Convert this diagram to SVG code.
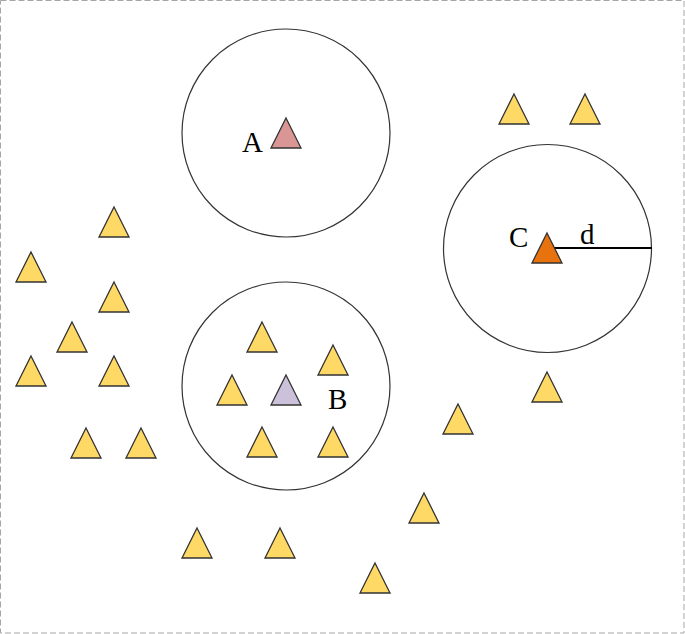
<svg xmlns="http://www.w3.org/2000/svg" xmlns:xlink="http://www.w3.org/1999/xlink" width="685" height="634" viewBox="0 0 685 634">
<style>
.frame{fill:#fff;stroke:#a6a6a6;stroke-width:1;stroke-dasharray:6,3}
.circ{fill:none;stroke:#333;stroke-width:1.2}
.y{fill:#FFD966}
.a{fill:#D99694}
.b{fill:#CCC1DA}
.c{fill:#E8730E}
.t{stroke:#333;stroke-width:1.3;stroke-linejoin:miter}
.lbl{font-family:"Liberation Serif","Times New Roman",serif;font-size:29px;fill:#000}
</style>
<defs>
<path id="tri" d="M0,0 L15,30 L-15,30 Z"/>
</defs>
<rect class="frame" x="0.5" y="0.5" width="683.5" height="632.5"/>
<g id="circles">
<circle id="circleA" class="circ" cx="286" cy="133" r="104"/>
<circle id="circleB" class="circ" cx="286" cy="386" r="104"/>
<circle id="circleC" class="circ" cx="547.5" cy="248.5" r="104"/>
</g>
<g id="connectors">
<line x1="547" y1="248" x2="652" y2="248" stroke="#000" stroke-width="2"/>
<text class="lbl" x="580" y="244">d</text>
</g>
<g id="nodeA"><use href="#tri" class="a t" x="286" y="118"/><text class="lbl" x="242" y="152">A</text></g>
<g id="nodeB"><use href="#tri" class="b t" x="286" y="375"/><text class="lbl" x="328" y="409">B</text></g>
<g id="nodeC"><use href="#tri" class="c t" x="547" y="233"/><text class="lbl" x="509" y="247">C</text></g>
<g id="n1"><use href="#tri" class="y t" x="114" y="207"/></g>
<g id="n2"><use href="#tri" class="y t" x="31" y="252"/></g>
<g id="n3"><use href="#tri" class="y t" x="114" y="282"/></g>
<g id="n4"><use href="#tri" class="y t" x="72" y="322"/></g>
<g id="n5"><use href="#tri" class="y t" x="31" y="356"/></g>
<g id="n6"><use href="#tri" class="y t" x="114" y="356"/></g>
<g id="n7"><use href="#tri" class="y t" x="86" y="428"/></g>
<g id="n8"><use href="#tri" class="y t" x="141" y="428"/></g>
<g id="n9"><use href="#tri" class="y t" x="262" y="322"/></g>
<g id="n10"><use href="#tri" class="y t" x="333" y="345"/></g>
<g id="n11"><use href="#tri" class="y t" x="232" y="375"/></g>
<g id="n12"><use href="#tri" class="y t" x="262" y="427"/></g>
<g id="n13"><use href="#tri" class="y t" x="333" y="427"/></g>
<g id="n14"><use href="#tri" class="y t" x="514" y="94"/></g>
<g id="n15"><use href="#tri" class="y t" x="585" y="94"/></g>
<g id="n16"><use href="#tri" class="y t" x="547" y="372"/></g>
<g id="n17"><use href="#tri" class="y t" x="458" y="404"/></g>
<g id="n18"><use href="#tri" class="y t" x="424" y="493"/></g>
<g id="n19"><use href="#tri" class="y t" x="197" y="528"/></g>
<g id="n20"><use href="#tri" class="y t" x="280" y="528"/></g>
<g id="n21"><use href="#tri" class="y t" x="375" y="563"/></g>
</svg>
